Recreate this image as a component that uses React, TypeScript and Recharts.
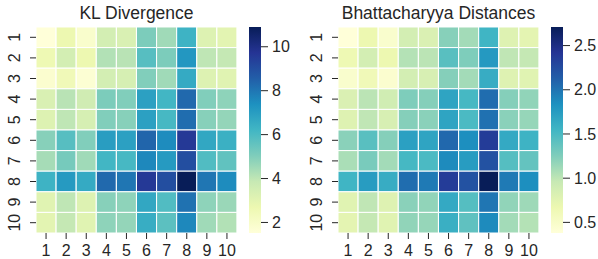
import React from 'react';
import { BarChart, Bar, XAxis, YAxis, Cell } from 'recharts';

const rows = ['1', '2', '3', '4', '5', '6', '7', '8', '9', '10'];
const cols = ['1', '2', '3', '4', '5', '6', '7', '8', '9', '10'];

const klValues: number[][] = [
  [1.52, 2.7, 1.9, 3.5, 3.3, 5.1, 4.5, 6.3, 3.2, 3.0],
  [2.6, 3.5, 2.7, 4.2, 4.1, 5.8, 5.1, 7.2, 4.0, 3.9],
  [1.8, 2.5, 1.7, 3.5, 3.4, 5.0, 4.5, 6.6, 3.2, 3.1],
  [3.3, 4.1, 3.6, 5.1, 5.0, 6.9, 6.2, 8.3, 5.0, 4.8],
  [3.2, 4.0, 3.4, 5.0, 4.9, 6.9, 6.1, 8.2, 4.9, 4.7],
  [4.9, 5.8, 5.0, 7.0, 6.9, 8.4, 7.5, 9.6, 6.7, 6.4],
  [4.4, 5.2, 4.5, 6.2, 6.1, 7.6, 7.1, 9.0, 5.9, 5.6],
  [6.3, 7.1, 6.6, 8.3, 8.0, 9.6, 9.0, 10.9, 8.0, 7.5],
  [3.1, 4.0, 3.2, 4.9, 4.8, 6.7, 5.9, 8.1, 4.8, 4.6],
  [3.0, 3.9, 3.1, 4.8, 4.7, 6.5, 5.7, 7.6, 4.5, 4.2],
];

const bhValues: number[][] = [
  [0.38, 0.67, 0.47, 0.87, 0.82, 1.22, 1.11, 1.55, 0.79, 0.74],
  [0.65, 0.87, 0.67, 1.04, 1.01, 1.43, 1.26, 1.77, 0.99, 0.97],
  [0.47, 0.62, 0.45, 0.87, 0.84, 1.23, 1.11, 1.62, 0.79, 0.77],
  [0.82, 1.01, 0.89, 1.26, 1.23, 1.69, 1.52, 2.04, 1.23, 1.18],
  [0.79, 0.99, 0.84, 1.23, 1.21, 1.69, 1.5, 2.02, 1.21, 1.16],
  [1.21, 1.43, 1.23, 1.72, 1.69, 2.07, 1.85, 2.36, 1.65, 1.57],
  [1.08, 1.28, 1.11, 1.52, 1.5, 1.87, 1.75, 2.21, 1.45, 1.38],
  [1.55, 1.75, 1.62, 2.04, 1.97, 2.36, 2.21, 2.71, 1.97, 1.85],
  [0.77, 0.99, 0.79, 1.21, 1.18, 1.65, 1.45, 1.99, 1.18, 1.13],
  [0.74, 0.97, 0.77, 1.18, 1.16, 1.6, 1.4, 1.87, 1.11, 1.04],
];

const klTicks = [2, 4, 6, 8, 10];
const bhTicks = [0.5, 1.0, 1.5, 2.0, 2.5];

// YlGnBu
const palette = ['#ffffd9', '#edf8b1', '#c7e9b4', '#7fcdbb', '#41b6c4', '#1d91c0', '#225ea8', '#253494', '#081d58'];

const hex = (h: string) => [1, 3, 5].map((i) => parseInt(h.slice(i, i + 2), 16));

const colorAt = (t: number) => {
  const c = Math.max(0, Math.min(1, t)) * (palette.length - 1);
  const i = Math.min(Math.floor(c), palette.length - 2);
  const f = c - i;
  const a = hex(palette[i]);
  const b = hex(palette[i + 1]);
  const m = a.map((v, k) => Math.round(v + (b[k] - v) * f));
  return `rgb(${m[0]},${m[1]},${m[2]})`;
};

const FONT = '"Liberation Sans", Arial, sans-serif';
const INK = '#262626';

const RowTick = (props: any) => {
  const { y, payload } = props;
  const label = rows[Math.floor(payload.value)];
  return (
    <text
      transform={`translate(19.5,${y}) rotate(-90)`}
      textAnchor="middle"
      fill={INK}
      fontSize={16}
      fontFamily={FONT}
    >
      {label}
    </text>
  );
};

interface HeatProps {
  title: string;
  values: number[][];
  ticks: number[];
  fmt: (v: number) => string;
  left: number;
  id: string;
}

const Heat: React.FC<HeatProps> = ({ title, values, ticks, fmt, left, id }) => {
  const flat = values.flat();
  const lo = Math.min(...flat);
  const hi = Math.max(...flat);
  const data = cols.map((c) => {
    const row: any = { col: c };
    rows.forEach((_, ri) => (row[`r${ri}`] = 1));
    return row;
  });
  const bar = [{ k: 'c', v: [lo, hi] }];

  return (
    <>
      <div
        style={{
          position: 'absolute',
          left: left + 36,
          top: 4,
          width: 201,
          textAlign: 'center',
          fontFamily: FONT,
          fontSize: 17.5,
          lineHeight: '18px',
          color: INK,
          whiteSpace: 'nowrap',
        }}
      >
        {title}
      </div>
      <div style={{ position: 'absolute', left, top: 0 }}>
        <BarChart
          width={240}
          height={259}
          data={data}
          barCategoryGap={0}
          margin={{ top: 27, right: 3, bottom: 0, left: 6 }}
        >
          <XAxis
            dataKey="col"
            interval={0}
            axisLine={false}
            tickSize={6}
            tickMargin={6}
            height={26}
            tickLine={{ stroke: INK }}
            tick={{ fill: INK, fontSize: 16, fontFamily: FONT }}
          />
          <YAxis
            type="number"
            domain={[0, rows.length]}
            reversed
            interval={0}
            ticks={rows.map((_, i) => i + 0.5)}
            axisLine={false}
            tickSize={6}
            width={30}
            tickLine={{ stroke: INK }}
            tick={<RowTick />}
          />
          {rows.map((_, ri) => (
            <Bar key={ri} dataKey={`r${ri}`} stackId="s" isAnimationActive={false}>
              {cols.map((_, ci) => (
                <Cell
                  key={ci}
                  fill={colorAt((values[ri][ci] - lo) / (hi - lo))}
                  stroke="#ffffff"
                  strokeWidth={1}
                />
              ))}
            </Bar>
          ))}
        </BarChart>
      </div>
      <div style={{ position: 'absolute', left: left + 240, top: 0 }}>
        <BarChart
          width={58}
          height={259}
          data={bar}
          barCategoryGap={0}
          margin={{ top: 27, right: 0, bottom: 26, left: 9 }}
        >
          <defs>
            <linearGradient id={id} x1="0" y1="1" x2="0" y2="0">
              {palette.map((p, i) => (
                <stop key={i} offset={i / (palette.length - 1)} stopColor={p} />
              ))}
            </linearGradient>
          </defs>
          <XAxis dataKey="k" hide />
          <YAxis
            orientation="right"
            type="number"
            domain={[lo, hi]}
            allowDataOverflow
            interval={0}
            ticks={ticks}
            tickFormatter={fmt}
            axisLine={false}
            tickSize={7}
            tickMargin={4}
            width={37}
            tickLine={{ stroke: INK }}
            tick={{ fill: INK, fontSize: 16, fontFamily: FONT }}
          />
          <Bar dataKey="v" fill={`url(#${id})`} isAnimationActive={false} />
        </BarChart>
      </div>
    </>
  );
};

export default function App() {
  return (
    <div
      style={{
        position: 'absolute',
        left: 0,
        top: 0,
        width: 598,
        height: 259,
        background: '#fff',
        overflow: 'hidden',
      }}
    >
      <Heat title="KL Divergence" values={klValues} ticks={klTicks} fmt={(v) => String(v)} left={0} id="gKL" />
      <Heat
        title="Bhattacharyya Distances"
        values={bhValues}
        ticks={bhTicks}
        fmt={(v) => v.toFixed(1)}
        left={302}
        id="gBH"
      />
    </div>
  );
}
